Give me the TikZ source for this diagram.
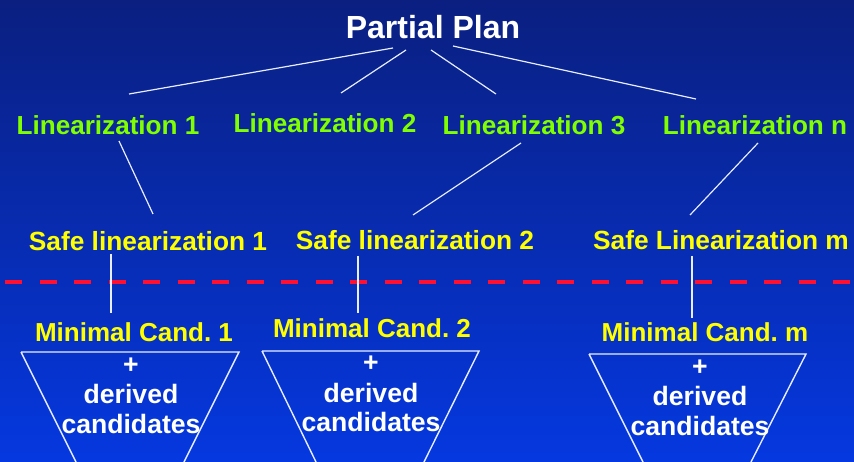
\documentclass[tikz,border=0pt]{standalone}
\usepackage{fontspec}
\setmainfont{Liberation Sans}
\frenchspacing
\definecolor{bgtop}{HTML}{0A1F80}
\definecolor{bgbot}{HTML}{0538E0}
\definecolor{lingreen}{HTML}{80FF00}
\definecolor{safeyellow}{HTML}{FFFF00}
\definecolor{dashred}{HTML}{FF1030}
\definecolor{linkwhite}{HTML}{E8EEFF}
\tikzset{
  txt/.style={inner sep=0pt, font=\bfseries},
  titletxt/.style={txt, text=white, font=\fontsize{32}{36}\selectfont\bfseries},
  lintxt/.style={txt, text=lingreen, font=\fontsize{26.1}{30}\selectfont\bfseries},
  safetxt/.style={txt, text=safeyellow, font=\fontsize{26.3}{30}\selectfont\bfseries},
  mintxt/.style={txt, text=safeyellow, font=\fontsize{26}{30}\selectfont\bfseries},
  candtxt/.style={txt, text=white, font=\fontsize{26.6}{30}\selectfont\bfseries},
  link/.style={draw=linkwhite, line width=1.2pt},
  trap/.style={draw=linkwhite, line width=1.4pt},
  sep/.style={draw=dashred, line width=3.2pt, dash pattern=on 17pt off 17.5pt}
}
\begin{document}
\begin{tikzpicture}[x=1pt,y=-1pt]
\shade[top color=bgtop, bottom color=bgbot] (0,0) rectangle (854,462);
\useasboundingbox (0,0) rectangle (854,462);

% nodes
\node[titletxt] (pp) at (433,27) {Partial Plan};
\node[lintxt] (lin1) at (108,125) {Linearization 1};
\node[lintxt] (lin2) at (325,123) {Linearization 2};
\node[lintxt] (lin3) at (534,125) {Linearization 3};
\node[lintxt] (linn) at (755,125) {Linearization n};

\node[safetxt] (safe1) at (148,241) {Safe linearization 1};
\node[safetxt] (safe2) at (415,240) {Safe linearization 2};
\node[safetxt] (safem) at (721,240) {Safe Linearization m};

\node[mintxt] (min1) at (134,332) {Minimal Cand.\ 1};
\node[mintxt] (min2) at (372,328) {Minimal Cand.\ 2};
\node[mintxt] (minm) at (705,332) {Minimal Cand.\ m};

% connector end points
\coordinate (a1) at (393,48);  \coordinate (a2) at (129,94);
\coordinate (b1) at (406,50);  \coordinate (b2) at (341,93);
\coordinate (c1) at (431,50);  \coordinate (c2) at (496,94);
\coordinate (d1) at (453,46);  \coordinate (d2) at (696,99);
\coordinate (e1) at (119,141); \coordinate (e2) at (153,214);
\coordinate (f1) at (521,143); \coordinate (f2) at (413,215);
\coordinate (g1) at (758,143); \coordinate (g2) at (690,215);
\coordinate (h1) at (111,254); \coordinate (h2) at (111,313);
\coordinate (i1) at (358,256); \coordinate (i2) at (358,313);
\coordinate (j1) at (692,256); \coordinate (j2) at (692,318);

% dashed separator
\coordinate (sl) at (5,282); \coordinate (sr) at (850,282);
\draw[sep] (sl) -- (sr);

% connectors
\draw[link] (a1) -- (a2);
\draw[link] (b1) -- (b2);
\draw[link] (c1) -- (c2);
\draw[link] (d1) -- (d2);
\draw[link] (e1) -- (e2);
\draw[link] (f1) -- (f2);
\draw[link] (g1) -- (g2);
\draw[link] (h1) -- (h2);
\draw[link] (i1) -- (i2);
\draw[link] (j1) -- (j2);

% trapezoids
\draw[trap] (21,352) -- (239,352) -- (184,462) (76,462) -- (21,352);
\draw[trap] (262,351) -- (479,351) -- (424,462) (316,462) -- (262,351);
\draw[trap] (589,354) -- (806,354) -- (751,462) (643,462) -- (589,354);

% trapezoid texts
\node[candtxt] (p1) at (131,366) {+};
\node[candtxt] (dv1) at (131,394) {derived};
\node[candtxt] (cd1) at (131,424) {candidates};
\node[candtxt] (p2) at (371,364) {+};
\node[candtxt] (dv2) at (371,393) {derived};
\node[candtxt] (cd2) at (371,422) {candidates};
\node[candtxt] (p3) at (700,368) {+};
\node[candtxt] (dv3) at (700,396) {derived};
\node[candtxt] (cd3) at (700,426) {candidates};
\end{tikzpicture}
\end{document}
